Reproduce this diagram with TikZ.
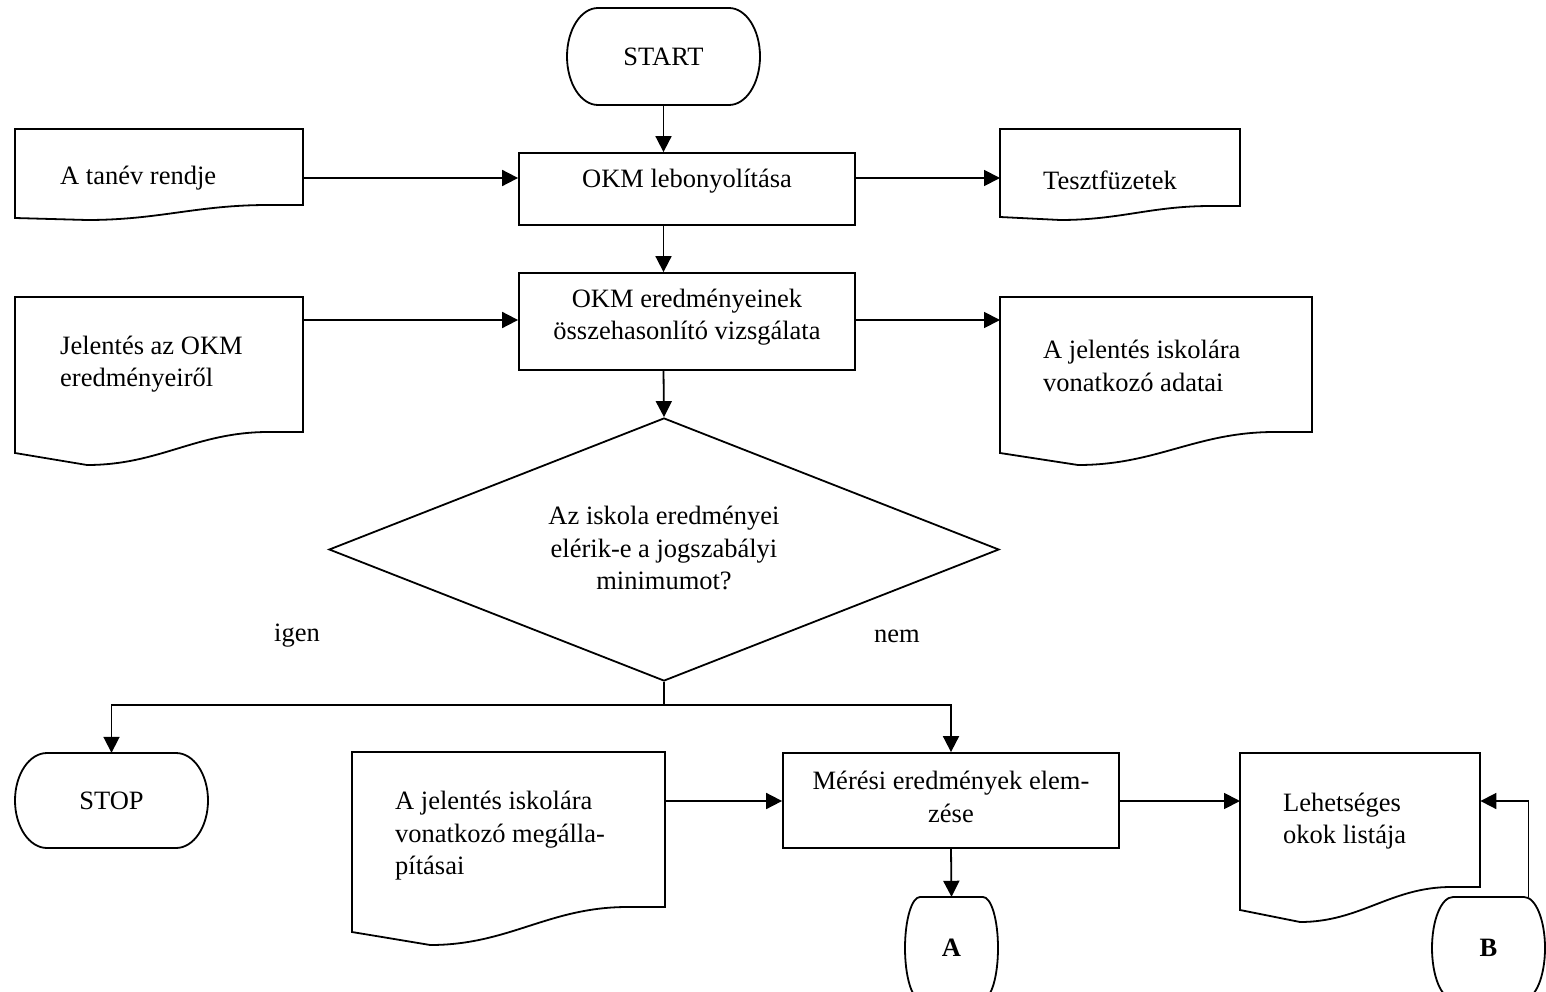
\documentclass[tikz,border=0pt]{standalone}
\usepackage{fontspec}
\setmainfont{Liberation Serif}
\usetikzlibrary{arrows.meta,calc,shapes.geometric}
\tikzset{
  ln/.style={line width=1.8pt},
  arr/.style={ln, -{Triangle[length=16pt,width=16pt]}},
  lbl/.style={font=\fontsize{26.5}{32.5}\selectfont, inner sep=0pt},
  txt/.style={lbl, align=left, anchor=west},
  ctxt/.style={lbl, align=center},
  boxn/.style={ln, draw, inner sep=0pt},
  anchorbox/.style={inner sep=0pt, draw=none}
}
% document symbol: name, x0, y0, x1, y-right-bottom, y-left-bottom, y-min
\newcommand\docshape[7]{%
  \pgfmathsetmacro\dsW{#4-#2}%
  \pgfmathsetmacro\dsA{#4-0.12*\dsW}%
  \pgfmathsetmacro\dsM{#2+0.25*\dsW}%
  \pgfmathsetmacro\dsC{0.4*(\dsA-\dsM)}%
  \draw[ln,line join=miter] (#2,#3) -- (#4,#3) -- (#4,#5) -- (\dsA,#5)
    .. controls ({\dsA-\dsC},#5) and ({\dsM+\dsC},#7) .. (\dsM,#7)
    -- (#2,#6) -- cycle;
  \node[anchorbox, minimum width=\dsW pt, minimum height={(#5-#3)*1pt}, anchor=north west] (#1) at (#2,#3) {};
}
% terminal symbol: name, x0, y0, x1, y1, r, text
\newcommand\termshape[7]{%
  \pgfmathsetmacro\tsM{(#3+#5)/2}%
  \pgfmathsetmacro\tsK{0.5523*(#5-#3)/2}%
  \pgfmathsetmacro\tsR{0.5523*#6}%
  \draw[ln] ({#2+#6},#3) -- ({#4-#6},#3)
    .. controls ({#4-#6+\tsR},#3) and (#4,{\tsM-\tsK}) .. (#4,\tsM)
    .. controls (#4,{\tsM+\tsK}) and ({#4-#6+\tsR},#5) .. ({#4-#6},#5)
    -- ({#2+#6},#5)
    .. controls ({#2+#6-\tsR},#5) and (#2,{\tsM+\tsK}) .. (#2,\tsM)
    .. controls (#2,{\tsM-\tsK}) and ({#2+#6-\tsR},#3) .. ({#2+#6},#3) -- cycle;
  \node[anchorbox, lbl, minimum width={(#4-#2)*1pt}, minimum height={(#5-#3)*1pt}] (#1) at ({(#2+#4)/2},\tsM) {#7};
}
\begin{document}
\begin{tikzpicture}[x=1pt,y=-1pt]
\useasboundingbox (0,0) rectangle (1546,992);
\fill[white] (0,0) rectangle (1546,992);
\clip (0,0) rectangle (1546,992);

% row coordinates
\coordinate (r1) at (0,178);
\coordinate (r2) at (0,320);
\coordinate (r3) at (0,801);
\coordinate (rs) at (0,705);

% terminals
\termshape{start}{567}{8}{760}{105}{31}{START}
\termshape{stop}{15}{753}{208}{848}{32}{STOP}
\termshape{A}{905}{897}{998}{999}{15}{\textbf{A}}
\termshape{B}{1432}{897}{1545}{999}{21}{\textbf{B}}

% process boxes
\node[boxn, minimum width=336pt, minimum height=72pt] (okm1) at (687,189) {};
\node[ctxt] (okm1t) at (687,181) {OKM lebonyolítása};
\node[boxn, minimum width=336pt, minimum height=97pt] (okm2) at (687,321.5) {};
\node[ctxt] (okm2t) at (687,317) {OKM eredményeinek\\összehasonlító vizsgálata};
\node[boxn, minimum width=336pt, minimum height=95pt] (meresi) at (951,800.5) {};
\node[ctxt] (meresit) at (951,797) {Mérési eredmények elem-\\zése};

% documents
\docshape{tanev}{15}{129}{303}{205}{218}{220}
\node[txt] (tanevt) at (60,178) {A tanév rendje};
\docshape{teszt}{1000}{129}{1240}{206}{217}{220}
\node[txt] (tesztt) at (1043,180) {Tesztfüzetek};
\docshape{jel}{15}{297}{303}{432}{453}{465}
\node[txt] (jelt) at (60,364) {Jelentés az OKM\\eredményeiről};
\docshape{adat}{1000}{297}{1312}{432}{453}{465}
\node[txt] (adatt) at (1043,366) {A jelentés iskolára\\vonatkozó adatai};
\docshape{megall}{352}{752}{665}{907}{932}{945}
\node[txt] (megallt) at (395,836) {A jelentés iskolára\\vonatkozó megálla-\\pításai};
\docshape{lehet}{1240}{753}{1480}{887}{910}{922}
\node[txt] (lehett) at (1283,821) {Lehetséges\\okok listája};

% decision
\node[ln, draw, diamond, minimum width=670pt, minimum height=263pt, inner sep=0pt] (dec) at (664,549.5) {};
\node[ctxt] (dect) at (664,548) {Az iskola eredményei\\elérik-e a jogszabályi\\minimumot?};
\node[lbl] (igen) at (297,636) {igen};
\node[lbl] (nem) at (897,636) {nem};

% connectors
\draw[arr] (start.south) -- (start.south |- okm1.north);
\draw[arr] (tanev.east |- r1) -- (okm1.west |- r1);
\draw[arr] (okm1.east |- r1) -- (teszt.west |- r1);
\draw[arr] (start.south |- okm1.south) -- (start.south |- okm2.north);
\draw[arr] (jel.east |- r2) -- (okm2.west |- r2);
\draw[arr] (okm2.east |- r2) -- (adat.west |- r2);
\draw[arr] (start.south |- okm2.south) -- (dec.north);
\coordinate (split) at (dec.south |- rs);
\draw[ln] (dec.south) -- (split);
\draw[arr] (split) -| (stop.north);
\draw[arr] (split) -| (meresi.north);
\draw[arr] (megall.east |- r3) -- (meresi.west |- r3);
\draw[arr] (meresi.east |- r3) -- (lehet.west |- r3);
\draw[arr] (meresi.south) -- (A.north);
\coordinate (bfoot) at ([xshift=40pt]B.north);
\draw[arr] (bfoot) |- (lehet.east |- r3);
\end{tikzpicture}
\end{document}
